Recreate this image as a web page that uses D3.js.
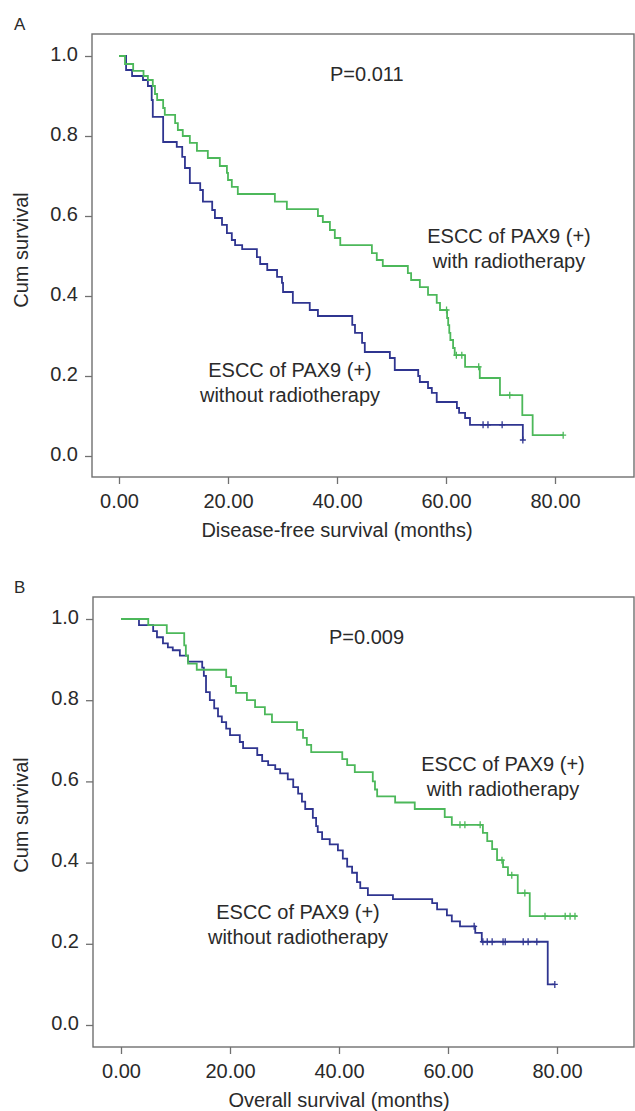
<!DOCTYPE html>
<html>
<head>
<meta charset="utf-8">
<script src="https://cdn.jsdelivr.net/npm/d3@7"></script>
<style>
  body { margin: 0; background: #fff; }
  svg text { font-family: "Liberation Sans", Arial, sans-serif; fill: #2a2a2a; }
</style>
</head>
<body>
<svg width="635" height="1111"></svg>
<script>
// axis ticks
const monthTicks = [0, 20, 40, 60, 80]
const survTicks = [0, 0.2, 0.4, 0.6, 0.8, 1.0]

// panel A - disease-free survival, [month, cum survival] at each step
const dfsWithRT = [[0,1],[1.1,0.98],[2.6,0.963],[4.5,0.95],[5.3,0.94],[6.2,0.925],[6.6,0.905],[7.0,0.89],[8.1,0.87],[8.4,0.853],
  [10.3,0.832],[10.8,0.815],[11.7,0.8],[13.0,0.783],[14.3,0.763],[16.3,0.745],[18.5,0.725],[19.8,0.708],[20.0,0.69],[20.7,0.673],
  [21.8,0.655],[28.6,0.636],[30.8,0.617],[36.5,0.6],[37.4,0.585],[38.7,0.565],[39.6,0.545],[40.6,0.527],[46.4,0.507],[47.3,0.49],
  [48.4,0.475],[53.0,0.457],[53.6,0.44],[55.2,0.422],[56.7,0.403],[58.3,0.383],[58.9,0.365],[60.2,0.345],[60.4,0.327],[60.6,0.308],
  [60.8,0.29],[61.3,0.27],[61.6,0.252],[63.5,0.223],[66.2,0.195],[69.9,0.152],[74.0,0.102],[75.9,0.052],[81.5,0.052]]
const dfsWithRTCensor = [60.1, 61.9, 62.9, 66.0, 71.7, 81.5]

const dfsNoRT = [[0,1],[1.3,0.965],[2.4,0.95],[4.4,0.94],[5.3,0.925],[6.0,0.89],[6.2,0.848],[8.1,0.785],[10.6,0.773],[11.6,0.748],
  [12.1,0.72],[13.0,0.682],[14.9,0.665],[15.4,0.636],[17.1,0.615],[17.6,0.595],[18.9,0.578],[19.8,0.557],[20.7,0.54],[21.3,0.527],
  [22.6,0.517],[25.3,0.497],[25.9,0.48],[27.2,0.465],[29.0,0.448],[29.9,0.433],[30.1,0.41],[31.9,0.383],[35.0,0.365],[36.5,0.35],
  [42.8,0.328],[43.3,0.308],[44.6,0.283],[45.1,0.26],[49.7,0.245],[50.6,0.215],[54.9,0.2],[55.2,0.185],[56.7,0.17],[57.4,0.158],
  [58.3,0.135],[62.0,0.12],[62.4,0.108],[63.5,0.095],[64.4,0.078],[74.1,0.04]]
const dfsNoRTCensor = [66.8, 67.7, 70.3, 74.1]

// panel B - overall survival
const osWithRT = [[0,1],[5.0,0.985],[8.4,0.965],[11.6,0.935],[11.9,0.91],[12.3,0.89],[13.9,0.875],[19.3,0.857],[20.2,0.835],[21.1,0.818],
  [23.1,0.8],[24.6,0.783],[26.4,0.765],[27.7,0.746],[32.3,0.727],[33.4,0.707],[34.1,0.69],[34.9,0.672],[40.6,0.655],[41.5,0.64],
  [42.9,0.623],[46.2,0.6],[46.6,0.58],[47.0,0.563],[50.3,0.548],[53.9,0.532],[59.4,0.512],[60.7,0.493],[66.4,0.473],[67.2,0.453],
  [68.1,0.433],[69.0,0.406],[70.1,0.389],[71.0,0.369],[72.8,0.325],[75.0,0.268],[83.7,0.268]]
const osWithRTCensor = [62.2, 63.1, 65.9, 69.9, 71.7, 74.1, 77.8, 81.5, 82.4, 83.3]

const osNoRT = [[0,1],[3.3,0.985],[5.9,0.97],[6.6,0.955],[7.7,0.94],[8.6,0.93],[9.5,0.923],[10.8,0.91],[12.3,0.895],[14.9,0.88],
  [15.2,0.86],[15.6,0.82],[16.3,0.8],[17.1,0.78],[17.8,0.76],[18.5,0.746],[19.3,0.73],[20.0,0.714],[21.8,0.697],[22.4,0.682],
  [25.0,0.665],[25.9,0.65],[27.0,0.64],[28.3,0.63],[29.2,0.62],[30.6,0.605],[31.6,0.586],[32.5,0.57],[33.2,0.55],[33.8,0.532],
  [35.2,0.51],[35.8,0.49],[36.1,0.475],[36.9,0.458],[38.3,0.445],[39.8,0.43],[40.7,0.41],[41.5,0.39],[42.4,0.375],[43.3,0.352],
  [43.9,0.337],[45.3,0.32],[49.9,0.31],[57.1,0.3],[58.0,0.285],[59.8,0.27],[60.7,0.255],[62.2,0.243],[65.0,0.227],[66.2,0.205],
  [78.3,0.1],[79.6,0.1]]
const osNoRTCensor = [64.8, 66.4, 67.2, 68.1, 70.1, 70.5, 73.8, 74.7, 76.3, 79.6]

const green = '#4cb85a'
const blue = '#2f3590'
const frameColor = '#707070'

const svg = d3.select('svg')

// survival value at time t (last step at or before t)
const survAt = (curve, t) => {
  let s = curve[0][1]
  curve.forEach(d => { if (d[0] <= t) s = d[1] })
  return s
}

const drawPanel = p => {
  const g = svg.append('g')
  const x = d3.scaleLinear().domain([0, 80]).range([p.x0, p.x80])
  const y = d3.scaleLinear().domain([0, 1]).range([p.y0, p.y1])

  // frame
  g.append('rect')
    .attr('x', p.left).attr('y', p.top)
    .attr('width', 634 - p.left).attr('height', p.bottom - p.top)
    .attr('fill', 'none').attr('stroke', frameColor).attr('stroke-width', 1.4)

  const yAxis = g.append('g')
    .attr('transform', `translate(${p.left},0)`)
    .call(d3.axisLeft(y).tickValues(survTicks).tickFormat(d3.format('.1f')).tickSize(7).tickPadding(7))
  yAxis.select('.domain').remove()
  yAxis.selectAll('line').attr('stroke', frameColor).attr('stroke-width', 1.3)
  yAxis.selectAll('text').attr('font-size', 20).attr('dy', '0.2em')
    .attr('font-family', '"Liberation Sans", Arial, sans-serif')

  const xAxis = g.append('g')
    .attr('transform', `translate(0,${p.bottom})`)
    .call(d3.axisBottom(x).tickValues(monthTicks).tickFormat(d3.format('.2f')).tickSize(7).tickPadding(10))
  xAxis.select('.domain').remove()
  xAxis.selectAll('line').attr('stroke', frameColor).attr('stroke-width', 1.3)
  xAxis.selectAll('text').attr('font-size', 20)
    .attr('font-family', '"Liberation Sans", Arial, sans-serif')

  const line = d3.line().curve(d3.curveStepAfter)
    .x(d => x(d[0])).y(d => y(d[1]))

  p.curves.forEach(c => {
    g.append('path').datum(c.data)
      .attr('d', line)
      .attr('fill', 'none')
      .attr('stroke', c.color)
      .attr('stroke-width', 1.8)

    g.selectAll(null).data(c.censor).enter().append('path')
      .attr('d', t => {
        const cx = x(t), cy = y(survAt(c.data, t))
        return `M${cx - 3},${cy}H${cx + 3}M${cx},${cy - 3.5}V${cy + 3.5}`
      })
      .attr('stroke', c.color)
      .attr('stroke-width', 1.3)
  })

  g.append('text').attr('x', 14).attr('y', p.top - 4)
    .attr('font-size', 17).text(p.letter)

  g.append('text')
    .attr('transform', `translate(28,${p.ylabelY}) rotate(-90)`)
    .attr('text-anchor', 'middle').attr('font-size', 20)
    .text('Cum survival')

  g.append('text').attr('x', x(40)).attr('y', p.xlabelY)
    .attr('text-anchor', 'middle').attr('font-size', 20)
    .text(p.xlabel)

  g.append('text').attr('x', p.pX).attr('y', p.pY)
    .attr('font-size', 20).text(p.pText)

  p.notes.forEach(n => {
    n.lines.forEach((s, i) => {
      g.append('text').attr('x', n.x).attr('y', n.y + i * 25)
        .attr('text-anchor', 'middle').attr('font-size', 20).text(s)
    })
  })
}

drawPanel({
  letter: 'A', left: 92, top: 34, bottom: 477,
  x0: 119, x80: 555, y0: 456, y1: 56,
  ylabelY: 250, xlabelY: 537, xlabel: 'Disease-free survival (months)',
  pX: 330, pY: 81, pText: 'P=0.011',
  curves: [
    { data: dfsNoRT, censor: dfsNoRTCensor, color: blue },
    { data: dfsWithRT, censor: dfsWithRTCensor, color: green }
  ],
  notes: [
    { x: 509, y: 243, lines: ['ESCC of PAX9 (+)', 'with radiotherapy'] },
    { x: 290, y: 377, lines: ['ESCC of PAX9 (+)', 'without radiotherapy'] }
  ]
})

drawPanel({
  letter: 'B', left: 93, top: 597, bottom: 1047,
  x0: 121, x80: 557, y0: 1025, y1: 619,
  ylabelY: 815, xlabelY: 1107, xlabel: 'Overall survival (months)',
  pX: 329, pY: 644, pText: 'P=0.009',
  curves: [
    { data: osNoRT, censor: osNoRTCensor, color: blue },
    { data: osWithRT, censor: osWithRTCensor, color: green }
  ],
  notes: [
    { x: 503, y: 771, lines: ['ESCC of PAX9 (+)', 'with radiotherapy'] },
    { x: 298, y: 919, lines: ['ESCC of PAX9 (+)', 'without radiotherapy'] }
  ]
})
</script>
</body>
</html>
